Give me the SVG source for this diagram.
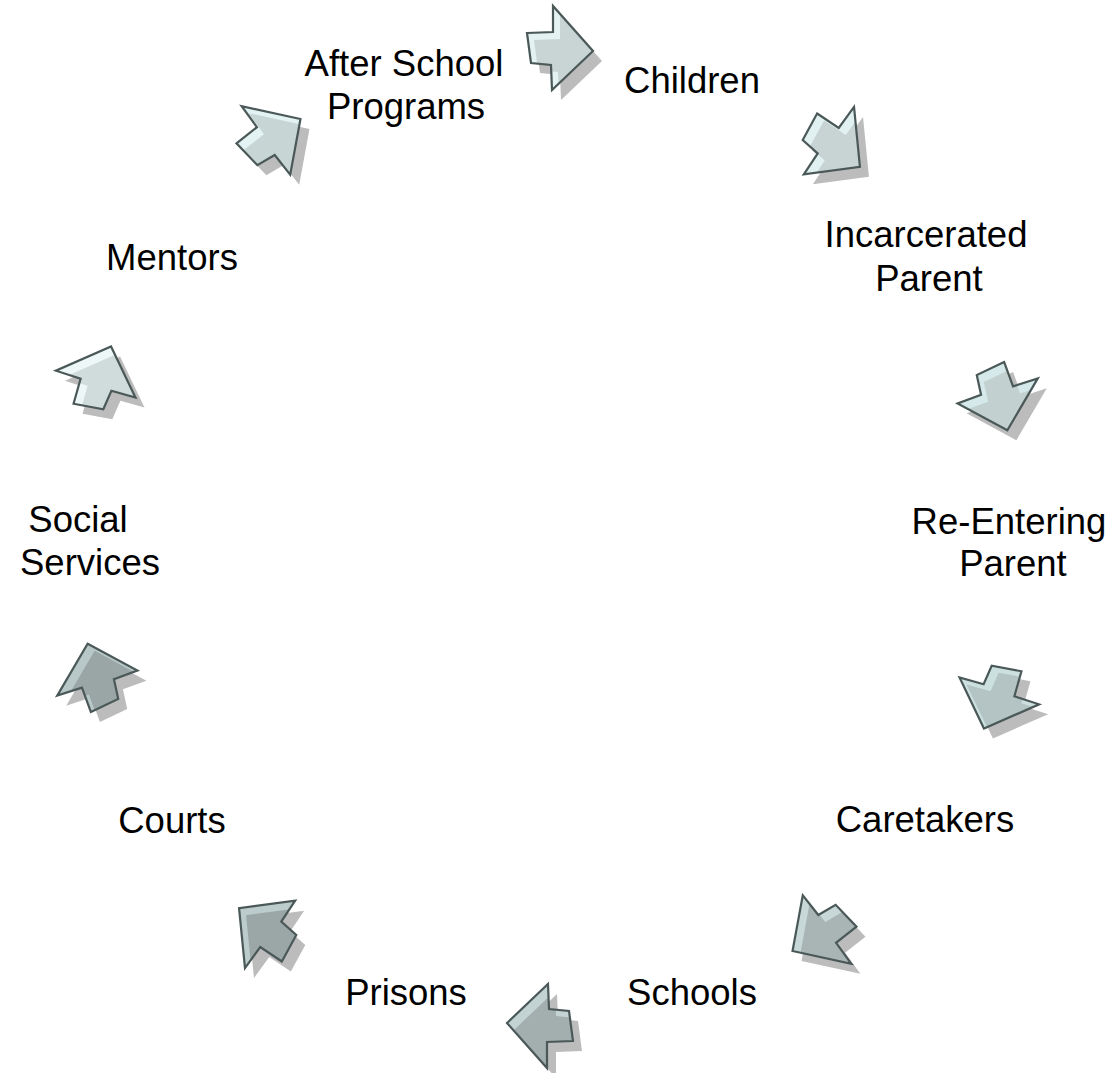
<svg xmlns="http://www.w3.org/2000/svg" xmlns:xlink="http://www.w3.org/1999/xlink" width="1111" height="1073" viewBox="0 0 1111 1073">
<style>
.lbl{font-family:"Liberation Sans",Arial,sans-serif;font-size:36.5px;fill:#000;text-anchor:middle}
.sh{fill:#bcbcbc}
.ol{fill:none;stroke:#4a5858;stroke-width:2.2;stroke-linejoin:miter}
</style>
<defs>
<path id="a" d="M-33,-15 L-7,-16 L-7,-42 L33,3 L-8,42 L-9,17 L-29,15 Z"/>
<clipPath id="c1"><use xlink:href="#a" transform="rotate(0)"/></clipPath>
<clipPath id="c2"><use xlink:href="#a" transform="rotate(36)"/></clipPath>
<clipPath id="c3"><use xlink:href="#a" transform="rotate(72)"/></clipPath>
<clipPath id="c4"><use xlink:href="#a" transform="rotate(108)"/></clipPath>
<clipPath id="c5"><use xlink:href="#a" transform="rotate(144)"/></clipPath>
<clipPath id="c6"><use xlink:href="#a" transform="rotate(180)"/></clipPath>
<clipPath id="c7"><use xlink:href="#a" transform="rotate(216)"/></clipPath>
<clipPath id="c8"><use xlink:href="#a" transform="rotate(252)"/></clipPath>
<clipPath id="c9"><use xlink:href="#a" transform="rotate(288)"/></clipPath>
<clipPath id="c10"><use xlink:href="#a" transform="rotate(324)"/></clipPath>
</defs>
<rect width="1111" height="1073" fill="#fff"/>

<g id="connectors">
  <g id="arrow-afterschool-children" transform="translate(560,48)">
    <use xlink:href="#a" class="sh" transform="translate(9,10) rotate(0)"/>
    <use xlink:href="#a" fill="#e4f2f2" transform="rotate(0)"/>
    <g clip-path="url(#c1)"><use xlink:href="#a" fill="#c9d5d5" transform="translate(7,7) rotate(0)"/></g>
    <use xlink:href="#a" class="ol" transform="rotate(0)"/>
  </g>
  <g id="arrow-children-incarcerated" transform="translate(835,145)">
    <use xlink:href="#a" class="sh" transform="translate(9,10) rotate(36)"/>
    <use xlink:href="#a" fill="#e1f1f1" transform="rotate(36)"/>
    <g clip-path="url(#c2)"><use xlink:href="#a" fill="#c8d3d3" transform="translate(7,7) rotate(36)"/></g>
    <use xlink:href="#a" class="ol" transform="rotate(36)"/>
  </g>
  <g id="arrow-incarcerated-reentering" transform="translate(1000,398)">
    <use xlink:href="#a" class="sh" transform="translate(9,10) rotate(72)"/>
    <use xlink:href="#a" fill="#d6e9ea" transform="rotate(72)"/>
    <g clip-path="url(#c3)"><use xlink:href="#a" fill="#c3d0d0" transform="translate(7,7) rotate(72)"/></g>
    <use xlink:href="#a" class="ol" transform="rotate(72)"/>
  </g>
  <g id="arrow-reentering-caretakers" transform="translate(997,698)">
    <use xlink:href="#a" class="sh" transform="translate(9,10) rotate(108)"/>
    <use xlink:href="#a" fill="#cde0e0" transform="rotate(108)"/>
    <g clip-path="url(#c4)"><use xlink:href="#a" fill="#b4c3c3" transform="translate(7,7) rotate(108)"/></g>
    <use xlink:href="#a" class="ol" transform="rotate(108)"/>
  </g>
  <g id="arrow-caretakers-schools" transform="translate(821,934)">
    <use xlink:href="#a" class="sh" transform="translate(9,10) rotate(144)"/>
    <use xlink:href="#a" fill="#c8d8d8" transform="rotate(144)"/>
    <g clip-path="url(#c5)"><use xlink:href="#a" fill="#a8b5b4" transform="translate(7,7) rotate(144)"/></g>
    <use xlink:href="#a" class="ol" transform="rotate(144)"/>
  </g>
  <g id="arrow-schools-prisons" transform="translate(540,1026)">
    <use xlink:href="#a" class="sh" transform="translate(9,10) rotate(180)"/>
    <use xlink:href="#a" fill="#c3d3d3" transform="rotate(180)"/>
    <g clip-path="url(#c6)"><use xlink:href="#a" fill="#a3aeae" transform="translate(7,7) rotate(180)"/></g>
    <use xlink:href="#a" class="ol" transform="rotate(180)"/>
  </g>
  <g id="arrow-prisons-courts" transform="translate(264,930)">
    <use xlink:href="#a" class="sh" transform="translate(9,10) rotate(216)"/>
    <use xlink:href="#a" fill="#bccbcb" transform="rotate(216)"/>
    <g clip-path="url(#c7)"><use xlink:href="#a" fill="#9ba7a7" transform="translate(7,7) rotate(216)"/></g>
    <use xlink:href="#a" class="ol" transform="rotate(216)"/>
  </g>
  <g id="arrow-courts-social" transform="translate(95,676)">
    <use xlink:href="#a" class="sh" transform="translate(9,10) rotate(252)"/>
    <use xlink:href="#a" fill="#b8c7c7" transform="rotate(252)"/>
    <g clip-path="url(#c8)"><use xlink:href="#a" fill="#9aa6a5" transform="translate(7,7) rotate(252)"/></g>
    <use xlink:href="#a" class="ol" transform="rotate(252)"/>
  </g>
  <g id="arrow-social-mentors" transform="translate(98,377)">
    <use xlink:href="#a" class="sh" transform="translate(9,10) rotate(288)"/>
    <use xlink:href="#a" fill="#eef7f7" transform="rotate(288)"/>
    <g clip-path="url(#c9)"><use xlink:href="#a" fill="#d0dbdb" transform="translate(7,7) rotate(288)"/></g>
    <use xlink:href="#a" class="ol" transform="rotate(288)"/>
  </g>
  <g id="arrow-mentors-afterschool" transform="translate(272,136)">
    <use xlink:href="#a" class="sh" transform="translate(9,10) rotate(324)"/>
    <use xlink:href="#a" fill="#e3f2f2" transform="rotate(324)"/>
    <g clip-path="url(#c10)"><use xlink:href="#a" fill="#c7d5d5" transform="translate(7,7) rotate(324)"/></g>
    <use xlink:href="#a" class="ol" transform="rotate(324)"/>
  </g>
</g>

<g id="node-children"><text class="lbl" x="692" y="93">Children</text></g>
<g id="node-incarcerated-parent"><text class="lbl" x="926" y="247">Incarcerated</text><text class="lbl" x="929" y="291">Parent</text></g>
<g id="node-reentering-parent"><text class="lbl" x="1009" y="534">Re-Entering</text><text class="lbl" x="1013" y="576">Parent</text></g>
<g id="node-caretakers"><text class="lbl" x="925" y="832">Caretakers</text></g>
<g id="node-schools"><text class="lbl" x="692" y="1005">Schools</text></g>
<g id="node-prisons"><text class="lbl" x="406" y="1005">Prisons</text></g>
<g id="node-courts"><text class="lbl" x="172" y="833">Courts</text></g>
<g id="node-social-services"><text class="lbl" x="78" y="532">Social</text><text class="lbl" x="90" y="575">Services</text></g>
<g id="node-mentors"><text class="lbl" x="172" y="270">Mentors</text></g>
<g id="node-after-school-programs"><text class="lbl" x="404" y="76">After School</text><text class="lbl" x="406" y="119">Programs</text></g>
</svg>
